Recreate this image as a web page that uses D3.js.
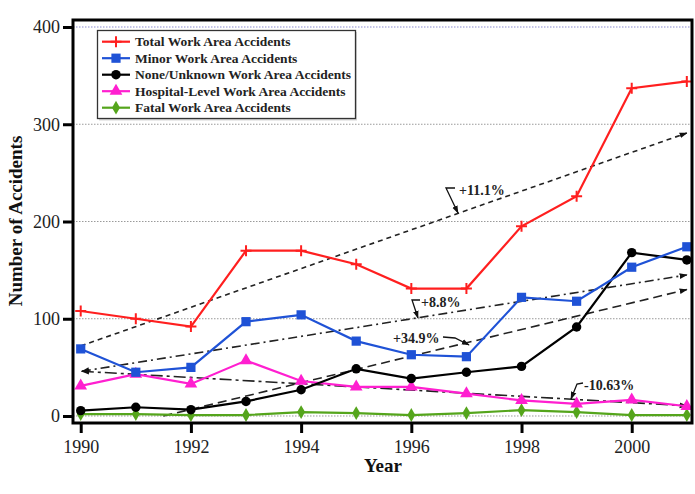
<!DOCTYPE html>
<html>
<head>
<meta charset="utf-8">
<script src="https://cdn.jsdelivr.net/npm/d3@7"></script>
<style>
  body { margin: 0; background: #fff; }
  svg { display: block; }
  text { font-family: "Liberation Serif", "DejaVu Serif", serif; }
</style>
</head>
<body>
<svg id="chart" width="695" height="494"></svg>
<script>
// ---------------- data ----------------
const years = [1990, 1991, 1992, 1993, 1994, 1995, 1996, 1997, 1998, 1999, 2000, 2001];
const totalAccidents    = [108, 100, 92, 170, 170, 156, 131, 131, 195, 226, 337, 344];
const minorAccidents    = [69, 45, 50, 97, 104, 77, 63, 61, 122, 118, 153, 174];
const noneUnknown       = [5.5, 9, 6.5, 15, 27, 48.5, 38.5, 45, 51, 91.5, 168, 160.5];
const hospitalLevel     = [31, 43, 33, 57, 36, 30, 30, 23, 16, 12.5, 16.5, 10];
const fatalAccidents    = [2, 2, 1, 1, 4, 3, 1, 3, 6, 4, 1, 1];
const seriesNames = [
  "Total Work Area Accidents",
  "Minor Work Area Accidents",
  "None/Unknown Work Area Accidents",
  "Hospital-Level Work Area Accidents",
  "Fatal Work Area Accidents"
];
const xTickValues = [1990, 1992, 1994, 1996, 1998, 2000];
const yTickValues = [0, 100, 200, 300, 400];
// trend lines: [startYear, startValue, endYear, endValue]
const trendTotal    = [1990, 72, 2001, 291];
const trendMinor    = [1990.02, 46, 2001, 145];
const trendNone     = [1991.5, 0, 2001, 130];
const trendHospital = [1990.02, 46, 2001, 10.5];
const trendLabels = ["+11.1%", "+8.8%", "+34.9%", "-10.63%"];

// ---------------- setup ----------------
const svg = d3.select("#chart");
const L = 73, R = 692, T = 20, B = 423;
const x = d3.scaleLinear().domain([1989.86, 2001.094]).range([L, R]);
const y = d3.scaleLinear().domain([-7.2, 407.2]).range([B, T]);

const defs = svg.append("defs");
defs.append("marker").attr("id", "arrow").attr("viewBox", "0 0 10 10")
  .attr("refX", 9).attr("refY", 5).attr("markerWidth", 8).attr("markerHeight", 8)
  .attr("markerUnits", "userSpaceOnUse").attr("orient", "auto-start-reverse")
  .append("path").attr("d", "M0,1.5 L10,5 L0,8.5 Z").attr("fill", "#111");

// gridlines
svg.append("g").selectAll("line").data(yTickValues).join("line")
  .attr("x1", L).attr("x2", R)
  .attr("y1", d => y(d)).attr("y2", d => y(d))
  .attr("stroke", d => d === 400 ? "#8a8ad0" : "#9a9a9a")
  .attr("stroke-width", 1)
  .attr("stroke-dasharray", "1.5,1.5");

// ---------------- trend lines ----------------
const trends = [
  { d: trendTotal, dash: "5,4", start: false },
  { d: trendMinor, dash: "9,4,2,4", start: true },
  { d: trendNone, dash: "9,5", start: false },
  { d: trendHospital, dash: "12,4,3,4", start: true }
];
const tg = svg.append("g");
trends.forEach(t => {
  tg.append("line")
    .attr("x1", x(t.d[0])).attr("y1", y(t.d[1]))
    .attr("x2", x(t.d[2])).attr("y2", y(t.d[3]))
    .attr("stroke", "#222").attr("stroke-width", 1.6)
    .attr("stroke-dasharray", t.dash)
    .attr("marker-end", "url(#arrow)")
    .attr("marker-start", t.start ? "url(#arrow)" : null);
});

// ---------------- series ----------------
const series = [
  { name: seriesNames[0], values: totalAccidents, color: "#ff1f1f", marker: "plus" },
  { name: seriesNames[1], values: minorAccidents, color: "#1f52d6", marker: "square" },
  { name: seriesNames[2], values: noneUnknown, color: "#000000", marker: "circle" },
  { name: seriesNames[3], values: hospitalLevel, color: "#ff1fd0", marker: "triangle" },
  { name: seriesNames[4], values: fatalAccidents, color: "#55a51c", marker: "diamond" }
];

function drawMarker(g, type, color) {
  if (type === "plus") {
    g.append("path").attr("d", "M-5.5,0H5.5M0,-5.5V5.5")
      .attr("stroke", color).attr("stroke-width", 2).attr("fill", "none");
  } else {
    const sym = { square: d3.symbolSquare, circle: d3.symbolCircle,
                  triangle: d3.symbolTriangle, diamond: d3.symbolDiamond }[type];
    const size = { square: 85, circle: 70, triangle: 70, diamond: 55 }[type];
    g.append("path").attr("d", d3.symbol(sym, size)()).attr("fill", color);
  }
}

const line = d3.line().x((d, i) => x(years[i])).y(d => y(d));
// draw in reverse so total is on top
series.slice().reverse().forEach(s => {
  const g = svg.append("g");
  g.append("path").attr("d", line(s.values))
    .attr("fill", "none").attr("stroke", s.color).attr("stroke-width", 2.2);
  s.values.forEach((v, i) => {
    const mg = g.append("g").attr("transform", `translate(${x(years[i])},${y(v)})`);
    drawMarker(mg, s.marker, s.color);
  });
});

// ---------------- annotations ----------------
const ann = svg.append("g");
const leaders = [
  "M455,188 L446,188 L458,213",
  "M420,300 L412,300 L418,318",
  "M443,337 L455,338 L469,345",
  "M583,383 L577,384 L571,399"
];
leaders.forEach(p => ann.append("path").attr("d", p).attr("fill", "none")
  .attr("stroke", "#111").attr("stroke-width", 1.3).attr("marker-end", "url(#arrow)"));
const labelPos = [[459, 195], [421, 307], [393, 343], [584, 390]];
trendLabels.forEach((t, i) => ann.append("text")
  .attr("x", labelPos[i][0]).attr("y", labelPos[i][1])
  .attr("font-size", "14px").attr("font-weight", "bold").attr("fill", "#222").text(t));

// ---------------- axes ----------------
const yAxis = svg.append("g").attr("transform", `translate(${L},0)`)
  .call(d3.axisLeft(y).tickValues(yTickValues).tickSize(10).tickPadding(3));
const xAxis = svg.append("g").attr("transform", `translate(0,${B})`)
  .call(d3.axisBottom(x).tickValues(xTickValues).tickFormat(d3.format("d")).tickSize(10).tickPadding(7));
[yAxis, xAxis].forEach(a => {
  a.select(".domain").remove();
  a.selectAll(".tick line").attr("stroke", "#000").attr("stroke-width", 3);
  a.selectAll(".tick text").attr("font-size", "18px").attr("fill", "#222")
    .attr("font-family", "Liberation Serif, serif");
});

// frame
svg.append("rect").attr("x", L).attr("y", T).attr("width", R - L).attr("height", B - T)
  .attr("fill", "none").attr("stroke", "#000").attr("stroke-width", 3);

// axis titles
svg.append("text").attr("x", 383).attr("y", 472).attr("text-anchor", "middle")
  .attr("font-size", "19px").attr("font-weight", "bold").attr("fill", "#111").text("Year");
svg.append("text").attr("transform", "translate(22,221) rotate(-90)").attr("text-anchor", "middle")
  .attr("font-size", "19px").attr("font-weight", "bold").attr("fill", "#111").text("Number of Accidents");

// ---------------- legend ----------------
const lg = svg.append("g");
lg.append("rect").attr("x", 99).attr("y", 32).attr("width", 258).attr("height", 88.5)
  .attr("fill", "#888").attr("opacity", 0.35);
lg.append("rect").attr("x", 97.5).attr("y", 30.5).attr("width", 258).attr("height", 88)
  .attr("fill", "#fff").attr("stroke", "#333").attr("stroke-width", 1.3);
series.forEach((s, i) => {
  const cy = 41.7 + i * 16.5;
  lg.append("line").attr("x1", 102).attr("x2", 130).attr("y1", cy).attr("y2", cy)
    .attr("stroke", s.color).attr("stroke-width", 2.2);
  const mg = lg.append("g").attr("transform", `translate(116,${cy})`);
  drawMarker(mg, s.marker, s.color);
  lg.append("text").attr("x", 135).attr("y", cy + 4.5)
    .attr("font-size", "13.5px").attr("font-weight", "bold").attr("fill", "#222").text(s.name);
});
</script>
</body>
</html>
